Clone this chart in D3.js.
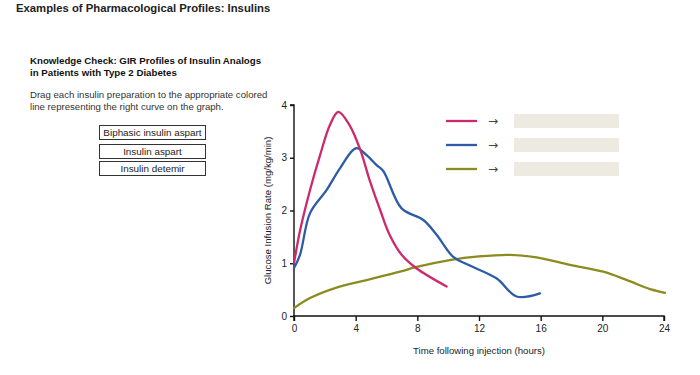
<!DOCTYPE html>
<html lang="en">
<head>
<meta charset="UTF-8">
<title>GIR Profiles of Insulin Analogs</title>
<script src="https://d3js.org/d3.v7.min.js"></script>
<style>
    body { margin: 0; background: #fff; font-family: "Liberation Sans", Arial, sans-serif; }
    svg { display: block; }
</style>
</head>
<body>
<div id="chart"></div>
<script>
    const width = 700;
    const height = 375;
    const marginTop = 105;
    const marginLeft = 294;
    const plotRight = 664;
    const plotBottom = 316;

    const xTicks = [0, 4, 8, 12, 16, 20, 24];
    const yTicks = [0, 1, 2, 3, 4];
    const choices = ["Biphasic insulin aspart", "Insulin aspart", "Insulin detemir"];

    // hours, GIR (mg/kg/min)
    const pinkSeries = [
        [0, 1.0], [0.4, 1.63], [1.04, 2.39], [1.69, 3.05], [2.33, 3.62], [2.87, 3.87],
        [3.6, 3.62], [4.3, 3.15], [4.9, 2.58], [5.6, 2.0], [6.2, 1.54], [6.98, 1.16],
        [7.96, 0.9], [9.9, 0.56]
    ];
    const blueSeries = [
        [0, 0.91], [0.39, 1.16], [1.04, 1.95], [2.12, 2.39], [2.98, 2.8], [4.02, 3.18],
        [4.71, 3.05], [5.36, 2.86], [5.79, 2.75], [6.98, 2.04], [8.39, 1.82], [9.25, 1.54],
        [10.33, 1.12], [11.3, 0.97], [13.15, 0.71], [14.44, 0.37], [15.95, 0.43]
    ];
    const oliveSeries = [
        [0, 0.15], [1.04, 0.34], [2.66, 0.53], [4.71, 0.68], [6.87, 0.84], [7.96, 0.93],
        [10.1, 1.06], [12, 1.13], [14, 1.16], [15.74, 1.11], [17.9, 0.97], [20.06, 0.84],
        [21.6, 0.68], [23.1, 0.51], [24.06, 0.44]
    ];
    const seriesColors = ["#cc2a6c", "#2d5ba7", "#8b8b1f"];

    const x = d3.scaleLinear().domain([0, 24]).range([marginLeft, plotRight]);
    const y = d3.scaleLinear().domain([0, 4]).range([plotBottom, marginTop]);

    const svg = d3.select("#chart").append("svg")
        .attr("width", width)
        .attr("height", height);

    svg.append("text")
        .attr("x", 16).attr("y", 12)
        .attr("font-size", 11.3).attr("font-weight", "bold").attr("fill", "#222")
        .text("Examples of Pharmacological Profiles: Insulins");

    const sub = svg.append("text")
        .attr("font-size", 9.7).attr("font-weight", "bold").attr("fill", "#111");
    sub.append("tspan").attr("x", 30).attr("y", 64).text("Knowledge Check: GIR Profiles of Insulin Analogs");
    sub.append("tspan").attr("x", 30).attr("y", 76).text("in Patients with Type 2 Diabetes");

    const para = svg.append("text")
        .attr("font-size", 9.6).attr("fill", "#333");
    para.append("tspan").attr("x", 30).attr("y", 98).text("Drag each insulin preparation to the appropriate colored");
    para.append("tspan").attr("x", 30).attr("y", 110).text("line representing the right curve on the graph.");

    // draggable choice boxes
    const boxY = [125, 144, 161];
    choices.forEach((c, i) => {
        svg.append("rect")
            .attr("x", 99.5).attr("y", boxY[i] + 0.5)
            .attr("width", 106).attr("height", 14)
            .attr("fill", "#fff").attr("stroke", "#333").attr("stroke-width", 1);
        svg.append("text")
            .attr("x", 152.5).attr("y", boxY[i] + 11)
            .attr("text-anchor", "middle")
            .attr("font-size", 9.9).attr("fill", "#222")
            .text(c);
    });

    // axes
    const axisX = svg.append("g")
        .attr("transform", `translate(0,${plotBottom})`)
        .call(d3.axisBottom(x).tickValues(xTicks).tickSize(5).tickPadding(4));
    const axisY = svg.append("g")
        .attr("transform", `translate(${marginLeft},0)`)
        .call(d3.axisLeft(y).tickValues(yTicks).tickFormat(d3.format("d")).tickSize(4).tickPadding(3));
    [axisX, axisY].forEach(g => {
        g.select(".domain").attr("stroke", "#111").attr("stroke-width", 1.4);
        g.selectAll(".tick line").attr("stroke", "#111").attr("stroke-width", 1.4);
        g.selectAll(".tick text").attr("font-size", 10).attr("fill", "#222")
            .attr("font-family", "Liberation Sans, Arial, sans-serif");
    });
    axisY.select(".domain").attr("d", `M-4,${y(4)}H0V${plotBottom}`);
    axisX.select(".domain").attr("d", `M${x(0)},5V0H${x(24)}V5`);

    svg.append("text")
        .attr("transform", `translate(271,${(marginTop + plotBottom) / 2}) rotate(-90)`)
        .attr("text-anchor", "middle")
        .attr("font-size", 9.6).attr("fill", "#222")
        .text("Glucose Infusion Rate (mg/kg/min)");

    svg.append("text")
        .attr("x", (marginLeft + plotRight) / 2).attr("y", 354)
        .attr("text-anchor", "middle")
        .attr("font-size", 9.6).attr("fill", "#222")
        .text("Time following injection (hours)");

    const line = d3.line()
        .x(d => x(d[0]))
        .y(d => y(d[1]))
        .curve(d3.curveCatmullRom.alpha(0.5));

    [oliveSeries, blueSeries, pinkSeries].forEach((s, i) => {
        svg.append("path")
            .datum(s)
            .attr("fill", "none")
            .attr("stroke", seriesColors[2 - i])
            .attr("stroke-width", 2.3)
            .attr("stroke-linecap", "round")
            .attr("d", line);
    });

    // legend lines, arrows and drop targets
    const legendY = [121, 145, 169];
    legendY.forEach((ly, i) => {
        svg.append("line")
            .attr("x1", 446).attr("x2", 477).attr("y1", ly).attr("y2", ly)
            .attr("stroke", seriesColors[i]).attr("stroke-width", 2.3);
        svg.append("text")
            .attr("x", 493).attr("y", ly + 4)
            .attr("text-anchor", "middle")
            .attr("font-size", 12).attr("fill", "#444")
            .attr("font-family", "DejaVu Sans, sans-serif")
            .text("→");
        svg.append("rect")
            .attr("x", 514).attr("y", ly - 7)
            .attr("width", 105).attr("height", 14)
            .attr("fill", "#edeae1");
    });
</script>
</body>
</html>
